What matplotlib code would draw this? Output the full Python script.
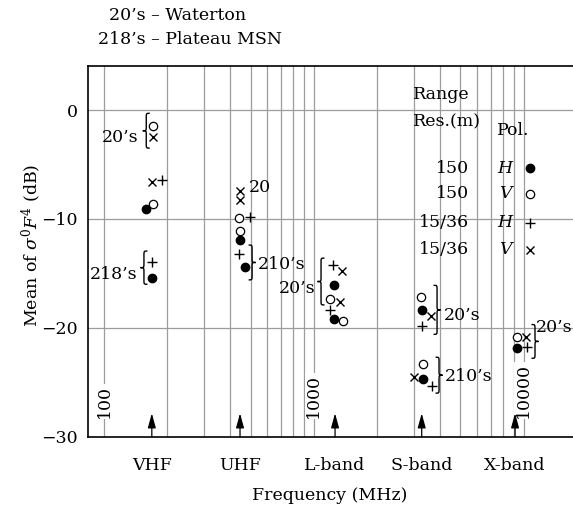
import matplotlib
matplotlib.use("Agg")
import matplotlib.pyplot as plt
from matplotlib.path import Path
from matplotlib.patches import PathPatch
import numpy as np

plt.rcParams['font.family'] = ['DejaVu Serif']
plt.rcParams['mathtext.fontset'] = 'dejavuserif'
FS = 12.5

# ---- data (frequency MHz, mean sigma0 F^4 dB) ----
# filled circle: 150 m, H pol
hh_f = [158, 170, 447, 472, 1253, 1253, 3270, 3330, 9280]
hh_db = [-9.1, -15.4, -11.9, -14.4, -16.1, -19.2, -18.4, -24.7, -21.9]
# open circle: 150 m, V pol
vv_f = [172, 172, 440, 445, 1195, 1383, 3245, 3307, 9280]
vv_db = [-1.5, -8.6, -9.9, -11.1, -17.4, -19.4, -17.2, -23.3, -20.8]
# plus: 15/36 m, H pol
ph_f = [190, 170, 497, 442, 1240, 1195, 3270, 3650, 10430]
ph_db = [-6.4, -14.0, -9.8, -13.2, -14.2, -18.4, -19.8, -25.3, -21.8]
# cross: 15/36 m, V pol
xv_f = [172, 169, 447, 447, 1360, 1334, 3610, 3015, 10280]
xv_db = [-2.5, -6.6, -7.4, -8.3, -14.8, -17.6, -18.9, -24.5, -20.8]

bands = ['VHF', 'UHF', 'L-band', 'S-band', 'X-band']
band_f = [169, 445, 1263, 3270, 9110]

# braces: (freq, top dB, bottom dB, side)
braces = [(159, -0.3, -3.5, 'left'), (155, -12.95, -16.0, 'left'),
          (508, -12.4, -15.6, 'right'), (1083, -13.6, -17.9, 'left'),
          (3870, -16.1, -20.6, 'right'), (3955, -22.7, -26.0, 'right'),
          (11340, -19.7, -22.8, 'right')]
# group labels: (text, freq, dB, ha)
groups = [("20’s", 146, -2.5, 'right'), ("218’s", 144, -15.15, 'right'),
          ("20", 488, -7.1, 'left'), ("210’s", 542, -14.2, 'left'),
          ("20’s", 1014, -16.4, 'right'), ("20’s", 4147, -18.9, 'left'),
          ("210’s", 4225, -24.5, 'left'), ("20’s", 11500, -20.0, 'left')]

res_labels = ['150', '150', '15/36', '15/36']
pol_labels = ['H', 'V', 'H', 'V']

fig = plt.figure(figsize=(5.73, 5.08), dpi=100)
W, H = 573.0, 508.0
ax = fig.add_axes([87.7 / W, (H - 436.7) / H, 1 - 87.7 / W, (436.7 - 65.7) / H])
ax.set_xscale('log')
ax.set_xlim(83.6, 17210)
ax.set_ylim(-30, 4.07)

# grid
grid_f = list(range(100, 1000, 100)) + list(range(1000, 10001, 1000))
for g in grid_f:
    ax.axvline(g, color='#9c9c9c', lw=0.9, zorder=0)
for g in [0, -10, -20]:
    ax.axhline(g, color='#9c9c9c', lw=0.9, zorder=0)

ax.xaxis.set_major_locator(matplotlib.ticker.NullLocator())
ax.xaxis.set_minor_locator(matplotlib.ticker.NullLocator())
ax.set_yticks([0, -10, -20, -30])
ax.set_yticklabels(['0', '\u221210', '\u221220', '\u221230'], fontsize=FS)
ax.tick_params(axis='y', length=0, pad=7)
ax.spines['right'].set_visible(False)
for s in ['left', 'top', 'bottom']:
    ax.spines[s].set_linewidth(1.2)

# decade labels
for d in [100, 1000, 10000]:
    ax.text(d, -28.3, str(d), rotation=90, ha='center', va='bottom',
            fontsize=FS, bbox=dict(fc='white', ec='none', pad=0.5), zorder=1)

# markers
ax.plot(hh_f, hh_db, 'o', color='k', ms=6, zorder=3)
ax.plot(vv_f, vv_db, 'o', mfc='white', mec='k', mew=0.9, ms=6, zorder=3)
ax.plot(ph_f, ph_db, '+', color='k', mew=1.0, ms=7, zorder=3)
ax.plot(xv_f, xv_db, 'x', color='k', mew=1.0, ms=5.5, zorder=3)

# arrows and band names
for name, f in zip(bands, band_f):
    ax.annotate('', xy=(f, -27.85), xytext=(f, -30),
                arrowprops=dict(arrowstyle='-|>,head_length=0.8,head_width=0.22',
                                color='k', lw=0.9, mutation_scale=11,
                                shrinkA=0, shrinkB=0))
    ax.text(f, -32.6, name, ha='center', va='center', fontsize=FS, clip_on=False)


def brace(f, y0, y1, side, w=7):
    fig.canvas.draw()
    x, ya = ax.transData.transform((f, y0))
    _, yb = ax.transData.transform((f, y1))
    top, bot = max(ya, yb), min(ya, yb)
    mid = (top + bot) / 2
    r = 4.5
    s = 1 if side == 'right' else -1
    xc = x
    xe = x - s * w / 2
    xt = x + s * w / 2
    verts = [(xe, top), (xc, top), (xc, top), (xc, top - r),
             (xc, mid + r), (xc, mid), (xc, mid), (xt, mid),
             (xc, mid), (xc, mid), (xc, mid - r),
             (xc, bot + r), (xc, bot), (xc, bot), (xe, bot)]
    codes = [Path.MOVETO, Path.CURVE4, Path.CURVE4, Path.CURVE4,
             Path.LINETO, Path.CURVE4, Path.CURVE4, Path.CURVE4,
             Path.CURVE4, Path.CURVE4, Path.CURVE4,
             Path.LINETO, Path.CURVE4, Path.CURVE4, Path.CURVE4]
    data = ax.transData.inverted().transform(verts)
    ax.add_patch(PathPatch(Path(data, codes), fc='none', ec='k', lw=1.0,
                           clip_on=False, zorder=3))


for f, y0, y1, side in braces:
    brace(f, y0, y1, side)
for t, f, y, ha in groups:
    ax.text(f, y, t, ha=ha, va='center', fontsize=FS, clip_on=False)

# key
ax.text(2970, 1.4, 'Range', ha='left', va='center', fontsize=FS)
ax.text(2970, -1.1, 'Res.(m)', ha='left', va='center', fontsize=FS)
ax.text(7480, -1.85, 'Pol.', ha='left', va='center', fontsize=FS)
key_y = [-5.35, -7.7, -10.35, -12.85]
key_fmt = [dict(marker='o', color='k', ms=6),
           dict(marker='o', mfc='white', mec='k', mew=0.9, ms=6),
           dict(marker='+', color='k', mew=1.0, ms=7),
           dict(marker='x', color='k', mew=1.0, ms=5.5)]
for y, res, pol, fmt in zip(key_y, res_labels, pol_labels, key_fmt):
    ax.text(5500, y, res, ha='right', va='center', fontsize=FS)
    ax.text(8160, y, pol, ha='center', va='center', fontsize=FS, style='italic')
    ax.plot([10740], [y], linestyle='none', zorder=3, **fmt)

# titles and axis labels
fig.text(178 / W, 1 - 15.7 / H, "20’s \u2013 Waterton", ha='center', va='center', fontsize=FS)
fig.text(190 / W, 1 - 40 / H, "218’s \u2013 Plateau MSN", ha='center', va='center', fontsize=FS)
fig.text(330 / W, 1 - 495 / H, 'Frequency (MHz)', ha='center', va='center', fontsize=FS)
fig.text(31 / W, 1 - 245 / H, r'Mean of $\sigma^0F^4$ (dB)', ha='center', va='center',
         rotation=90, fontsize=FS)

fig.savefig('out.png', dpi=100)
